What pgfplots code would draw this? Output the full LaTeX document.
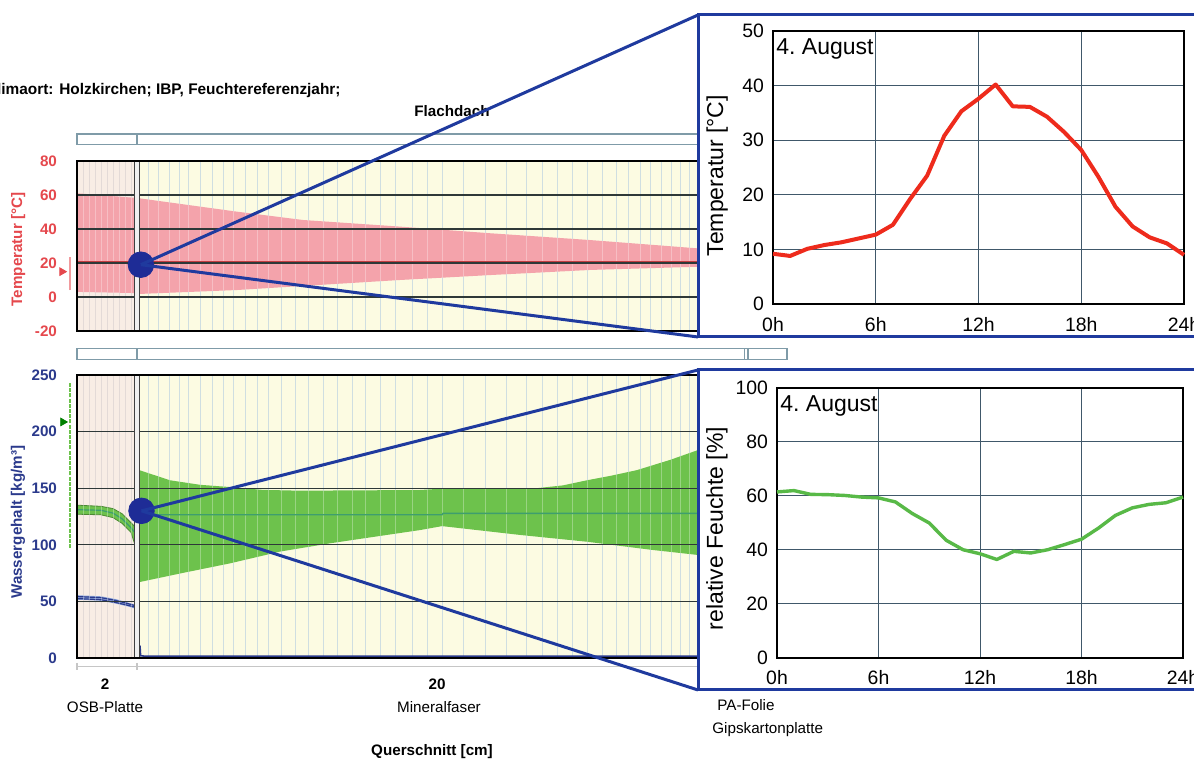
\documentclass[border=0pt]{standalone}
\usepackage{pgfplots}
\pgfplotsset{compat=1.18}
\usepackage{fontspec}
\setmainfont{Liberation Sans}
\definecolor{tred}{HTML}{E5484D}
\definecolor{wblue}{HTML}{2B3A8C}
\definecolor{bandpink}{HTML}{F4A3AB}
\definecolor{bandgreen}{HTML}{6DC24C}
\definecolor{bgyellow}{HTML}{FCFBE2}
\definecolor{bgosb}{HTML}{F8EDE5}
\definecolor{vgrid}{HTML}{BBD0D5}
\definecolor{osbgrid}{HTML}{D8CBC6}
\definecolor{hgrid}{HTML}{2E3838}
\definecolor{conblue}{HTML}{1F3A9E}
\definecolor{dotblue}{HTML}{1E2C96}
\definecolor{insetgrid}{HTML}{40586A}
\definecolor{linered}{HTML}{EE2B1C}
\definecolor{linegreen}{HTML}{58B947}
\definecolor{barline}{HTML}{7F9BA8}
\definecolor{midgreen}{HTML}{3E9E6E}
\definecolor{lightblue}{HTML}{8FA8DC}
\newcommand\mf{\fontsize{7.6}{9}\selectfont}
\newcommand\osbgridlines[3]{%
  \pgfplotsinvokeforeach{0.2,0.4,0.6,0.8,1.0,1.2,1.4,1.6,1.8}{\draw[#3] (axis cs:##1,#1) -- (axis cs:##1,#2);}}
\newcommand\vgridlines[3]{%
  \pgfplotsinvokeforeach{2.37,2.73,3.07,3.4,3.73,4.1,4.5,4.87,5.2,5.6,6,6.37,6.83,7.27,7.7,8.2,8.67,9.17,9.6,10.1,10.6,11.17,11.67,12.17,12.87,13.6,14.3,14.97,15.53,16.03,16.53,17.03,17.53,17.97,18.37,18.77,19.13,19.47,19.8,20.1,20.4,20.7,20.97,21.23,21.47,21.7,21.9,22.3,22.6,22.9,23.2,23.5}{\draw[#3] (axis cs:##1,#1) -- (axis cs:##1,#2);}}
\begin{document}
\begin{tikzpicture}[x=0.5pt,y=0.5pt]
\path[use as bounding box] (0,0) rectangle (1194,760);
\coordinate (AT) at (77,429);
\coordinate (AW) at (77,102);
\coordinate (IT) at (773,456);
\coordinate (IW) at (777,102);
\begin{scope}
\clip (0,0) rectangle (1194,760);
\fill[white] (0,0) rectangle (1194,760);
% titles
\node[anchor=base east, font=\fontsize{7.7}{9}\selectfont\bfseries, inner sep=0pt] at (341,665) {Klimaort: Holzkirchen; IBP, Feuchtereferenzjahr;};
\node[anchor=base, font=\mf\bfseries, inner sep=0pt] at (452,643) {Flachdach};
% bars
\draw[barline, line width=0.7pt, fill=white] (77,626) rectangle (787,615.5);
\draw[barline, line width=0.7pt] (137,626) -- (137,615.5);
\draw[barline, line width=0.7pt, fill=white] (77,411.5) rectangle (787,400.5);
\draw[barline, line width=0.7pt] (137,411.5) -- (137,400.5) (744.5,411.5) -- (744.5,400.5) (748,411.5) -- (748,400.5);
% temperature panel
\begin{axis}[at={(AT)}, anchor=south west, scale only axis,
  width=355pt, height=85pt,
  xmin=0, xmax=23.667, ymin=-20, ymax=80,
  axis line style={black, line width=0.9pt},
  xtick=\empty, ytick={-20,0,20,40,60,80}, yticklabels={-20,0,20,40,60,80},
  major tick length=0pt,
  yticklabel style={font=\mf\bfseries, text=tred, xshift=-6.5pt},
  ylabel={Temperatur [°C]},
  ylabel style={font=\mf\bfseries, text=tred, at={(axis description cs:-0.083,0.48)}, anchor=center},
  clip=false, axis on top]
\fill[bgosb] (axis cs:0,-20) rectangle (axis cs:2,80);
\fill[bgyellow] (axis cs:2,-20) rectangle (axis cs:23.667,80);
\osbgridlines{-20}{80}{osbgrid, line width=0.45pt}
\vgridlines{-20}{80}{vgrid, line width=0.45pt}
\addplot[fill=bandpink, draw=none] coordinates {(0,61) (1.95,58.3) (2.1,58) (5.33,50.2) (7.53,45.3) (10.77,41.4) (13.77,37.5) (17.1,33.5) (20.7,28.6) (23.667,26) (23.667,19.5) (20.7,17.8) (17.1,15.9) (13.77,12.9) (10.77,10) (7.53,6.5) (5.33,4.1) (2.1,1.8) (1.95,2.3) (0,3)} -- cycle;
\osbgridlines{-20}{80}{white, opacity=0.3, line width=0.45pt}
\vgridlines{-20}{80}{white, opacity=0.3, line width=0.45pt}
\pgfplotsinvokeforeach{0,20,40,60}{\draw[hgrid, line width=0.55pt] (axis cs:0,#1) -- (axis cs:23.667,#1);}
\addplot[color=tred!85!black, line width=0.7pt] coordinates {(0,20.8) (23.667,20.8)};
\fill[gray!12] (axis cs:1.93,-20) rectangle (axis cs:2.08,80);
\draw[gray!50!black, line width=0.5pt] (axis cs:1.93,-20) -- (axis cs:1.93,80) (axis cs:2.08,-20) -- (axis cs:2.08,80);
\addplot[tred!55, line width=1pt] coordinates {(-0.23,4.1) (-0.23,23.7)};
\addplot[only marks, mark=triangle*, mark size=2.2pt, mark options={rotate=-90, fill=tred, draw=tred}] coordinates {(-0.5,14.9)};
\addplot[only marks, mark=*, mark size=6.4pt, mark options={fill=dotblue, draw=dotblue}] coordinates {(2.13,19)};
\coordinate (ct) at (axis cs:2.13,19);
\end{axis}
% water content panel
\begin{axis}[at={(AW)}, anchor=south west, scale only axis,
  width=355pt, height=141.5pt,
  xmin=0, xmax=23.667, ymin=0, ymax=250,
  axis line style={black, line width=0.9pt},
  xtick=\empty, ytick={0,50,100,150,200,250}, yticklabels={0,50,100,150,200,250},
  major tick length=0pt,
  yticklabel style={font=\mf\bfseries, text=wblue, xshift=-6.5pt},
  ylabel={Wassergehalt [kg/m³]},
  ylabel style={font=\mf\bfseries, text=wblue, at={(axis description cs:-0.083,0.48)}, anchor=center},
  clip=false, axis on top]
\fill[bgosb] (axis cs:0,0) rectangle (axis cs:2,250);
\fill[bgyellow] (axis cs:2,0) rectangle (axis cs:23.667,250);
\osbgridlines{0}{250}{osbgrid, line width=0.45pt}
\vgridlines{0}{250}{vgrid, line width=0.45pt}
% mineral fibre band
\addplot[fill=bandgreen, draw=none] coordinates {(2.07,166) (3.1,157) (4.1,153) (5.1,151) (6.2,148.5) (7.43,147.8) (11.43,148.4) (12.1,149.5) (15.33,150) (16.2,152.5) (17,157) (17.8,161) (18.67,166) (19.77,175) (20.7,183.7) (22.1,195) (23.667,205) (23.667,86) (20.7,91) (19.2,95.4) (17,102.7) (14.77,108.7) (12.17,116.5) (11.43,113) (8.43,101.3) (6.77,94) (5.1,83.6) (3.5,75) (2.07,67)} -- cycle;
% OSB bands
\addplot[fill=bandgreen, draw=bandgreen!70!black, line width=0.4pt] coordinates {(0,135) (0.8,134) (1.2,132) (1.5,127.5) (1.8,119.5) (1.93,116) (2.0,112) (2.0,88) (1.93,100) (1.8,111) (1.5,119) (1.2,124) (0.8,126.5) (0,127)} -- cycle;
\addplot[midgreen, line width=0.6pt] coordinates {(0,131) (0.8,130.5) (1.2,128) (1.5,123) (1.8,115) (1.95,110)};
\addplot[fill=lightblue, draw=none] coordinates {(0,55.5) (0.8,54.5) (1.3,52) (1.7,49) (1.95,47) (2.0,45) (2.0,37) (1.95,43.5) (1.7,45.5) (1.3,48) (0.8,50.5) (0,51.5)} -- cycle;
\addplot[wblue, line width=0.6pt] coordinates {(0,54.3) (0.8,53.3) (1.3,50.8) (1.7,48) (1.95,46.2)};
\addplot[wblue, line width=0.6pt] coordinates {(0,52.5) (0.8,51.5) (1.3,49) (1.7,46.5) (1.95,44.8)};
\osbgridlines{0}{250}{white, opacity=0.3, line width=0.45pt}
\vgridlines{0}{250}{white, opacity=0.3, line width=0.45pt}
\pgfplotsinvokeforeach{50,100,150,200}{\draw[hgrid, line width=0.55pt] (axis cs:0,#1) -- (axis cs:23.667,#1);}
\addplot[midgreen, line width=0.7pt] coordinates {(2.07,126.5) (12.17,126.5) (12.2,127.8) (23.667,127.8)};
\addplot[wblue, line width=0.8pt] coordinates {(2.1,11) (2.12,2) (2.3,1.5) (23.667,1.5)};
\fill[gray!12] (axis cs:1.93,0) rectangle (axis cs:2.08,250);
\draw[gray!50!black, line width=0.5pt] (axis cs:1.93,0) -- (axis cs:1.93,250) (axis cs:2.08,0) -- (axis cs:2.08,250);
\addplot[bandgreen, line width=1pt, dash pattern=on 2pt off 0.6pt] coordinates {(-0.23,97) (-0.23,243)};
\addplot[only marks, mark=triangle*, mark size=2.2pt, mark options={rotate=-90, fill=green!50!black, draw=green!50!black}] coordinates {(-0.47,208.5)};
\addplot[only marks, mark=*, mark size=6.4pt, mark options={fill=dotblue, draw=dotblue}] coordinates {(2.15,130)};
\coordinate (cw) at (axis cs:2.15,130);
\end{axis}
% bottom axis and labels
\draw[gray!45, line width=0.6pt] (77,93.5) -- (787,93.5) (77,97) -- (77,90) (137,97) -- (137,90);
\node[anchor=base, font=\mf\bfseries, inner sep=0pt] at (105,70) {2};
\node[anchor=base, font=\mf, inner sep=0pt] at (105,47) {OSB-Platte};
\node[anchor=base, font=\mf\bfseries, inner sep=0pt] at (437,70) {20};
\node[anchor=base, font=\mf, inner sep=0pt] at (439,47) {Mineralfaser};
\node[anchor=base west, font=\mf, inner sep=0pt] at (717,49) {PA-Folie};
\node[anchor=base west, font=\mf, inner sep=0pt] at (712,26) {Gipskartonplatte};
\node[anchor=base, font=\mf\bfseries, inner sep=0pt] at (432,4) {Querschnitt [cm]};
% connectors
\draw[conblue, line width=1.5pt] (ct) -- (698,745) (ct) -- (698,423);
\draw[conblue, line width=1.5pt] (cw) -- (698,390) (cw) -- (698,70);
% insets
\draw[conblue, line width=1.5pt, fill=white] (698,745) rectangle (1215,423);
\draw[conblue, line width=1.5pt, fill=white] (698,390) rectangle (1215,70);
\begin{axis}[at={(IT)}, anchor=south west, scale only axis,
  width=205.5pt, height=136.5pt,
  xmin=0, xmax=24, ymin=0, ymax=50,
  xtick={0,6,12,18,24}, xticklabels={0h,6h,12h,18h,24h},
  ytick={0,10,20,30,40,50}, yticklabels={0,10,20,30,40,50},
  grid=major, major grid style={draw=insetgrid, line width=0.5pt},
  major tick length=0pt,
  tick label style={font=\fontsize{9.7}{11}\selectfont},
  xticklabel style={yshift=-3pt}, yticklabel style={xshift=-1pt},
  axis line style={black, line width=0.75pt},
  ylabel={Temperatur [°C]},
  ylabel style={font=\fontsize{11.5}{13}\selectfont, at={(axis description cs:-0.136,0.47)}, anchor=center},
  clip=false]
\addplot[linered, line width=2pt, line join=round] coordinates {(0,9.2) (1,8.8) (2,10.1) (3,10.8) (4,11.3) (5,12.0) (6,12.7) (7,14.5) (8,19.2) (9,23.5) (10,30.8) (11,35.3) (12,37.6) (13,40.2) (14,36.2) (15,36.1) (16,34.3) (17,31.5) (18,28.2) (19,23.3) (20,17.8) (21,14.2) (22,12.2) (23,11.1) (24,9.0)};
\node[anchor=north west, font=\fontsize{11.5}{13}\selectfont, inner sep=1.5pt, yshift=-2pt] at (rel axis cs:0,1) {4.\ August};
\end{axis}
\begin{axis}[at={(IW)}, anchor=south west, scale only axis,
  width=203pt, height=135pt,
  xmin=0, xmax=24, ymin=0, ymax=100,
  xtick={0,6,12,18,24}, xticklabels={0h,6h,12h,18h,24h},
  ytick={0,20,40,60,80,100}, yticklabels={0,20,40,60,80,100},
  grid=major, major grid style={draw=insetgrid, line width=0.5pt},
  major tick length=0pt,
  tick label style={font=\fontsize{9.7}{11}\selectfont},
  xticklabel style={yshift=-2.5pt}, yticklabel style={xshift=-1pt},
  axis line style={black, line width=0.75pt},
  ylabel={relative Feuchte [\%]},
  ylabel style={font=\fontsize{11.5}{13}\selectfont, at={(axis description cs:-0.148,0.48)}, anchor=center},
  clip=false]
\addplot[linegreen, line width=1.7pt, line join=round] coordinates {(0,61.5) (1,62.0) (2,60.6) (3,60.5) (4,60.2) (5,59.6) (6,59.3) (7,57.8) (8,53.5) (9,50.0) (10,43.6) (11,40.1) (12,38.6) (13,36.5) (14,39.5) (15,38.9) (16,40.1) (17,42.0) (18,44.0) (19,48.1) (20,52.8) (21,55.6) (22,56.9) (23,57.5) (24,59.6)};
\node[anchor=north west, font=\fontsize{11.5}{13}\selectfont, inner sep=1.5pt, yshift=-2pt] at (rel axis cs:0,1) {4.\ August};
\end{axis}
\end{scope}
\end{tikzpicture}
\end{document}
